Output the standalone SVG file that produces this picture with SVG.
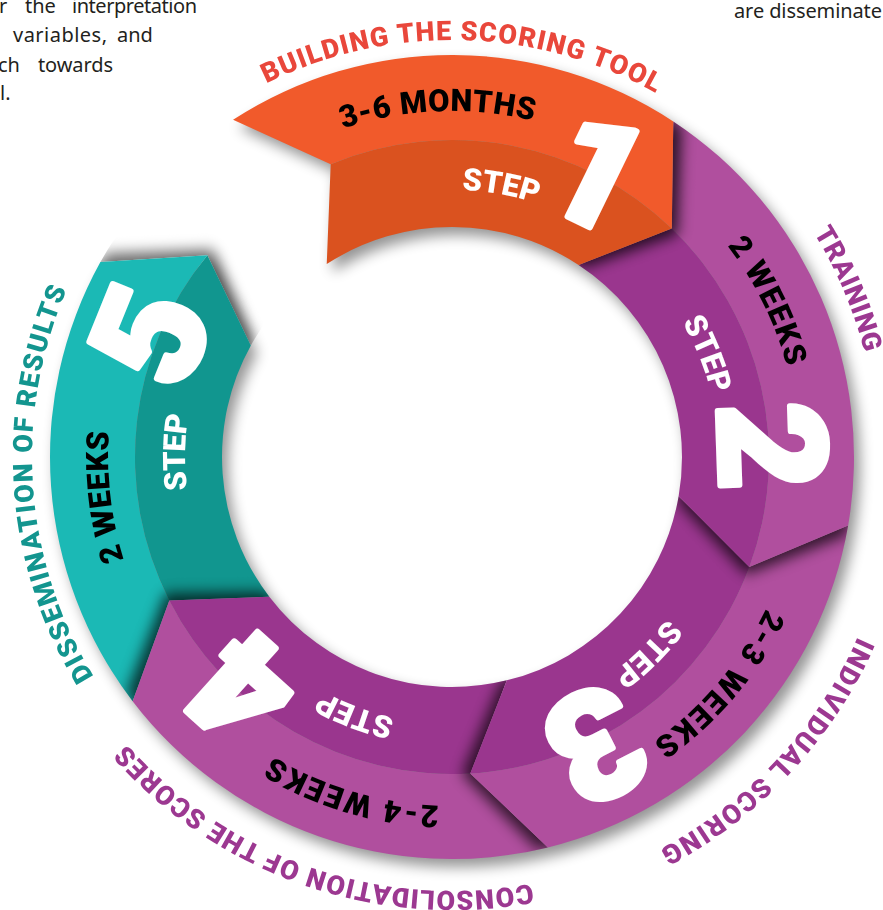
<svg xmlns="http://www.w3.org/2000/svg" xmlns:xlink="http://www.w3.org/1999/xlink" width="883" height="910" viewBox="0 0 883 910">
  <style>
    .body { font-family: 'Noto Sans', 'Liberation Sans', sans-serif; font-size: 20px; fill: #231F20; }
    .lbl { font-family: Roboto, 'Noto Sans', sans-serif; font-weight: 900; text-anchor: middle; }
    .outer { font-size: 27px; }
    .dur { font-size: 31px; fill: #000; }
    .step { font-size: 31px; fill: #fff; }
    .num { font-family: Roboto, sans-serif; font-weight: 900; font-size: 150px; fill: #fff; stroke: #fff; stroke-width: 6px; stroke-linejoin: round; text-anchor: middle; }
    .o1 { fill: #F15A2B; } .i1 { fill: #DA521F; }
    .op { fill: #B04F9E; } .ip { fill: #9A368E; }
    .ot { fill: #1BB9B5; } .it { fill: #11968F; }
  </style>
  <defs>
    <!-- one chevron-shaped ring segment, tail at 0deg, head at 66.4deg, centre (452,457) -->
    <path id="segShape" d="M452,55 A402,402 0 0 1 820.38,296.06 L760.75,385.15 L662.76,364.92 A230,230 0 0 0 452,227 L509.77,145.31 Z"/>
    <path id="outerBand" d="M452,55 A402,402 0 0 1 820.38,296.06 L760.75,385.15 A317,317 0 0 0 509.77,145.31 Z"/>
    <path id="innerBand" d="M509.77,145.31 A317,317 0 0 1 760.75,385.15 L662.76,364.92 A230,230 0 0 0 452,227 Z"/>
    <clipPath id="nextSeg"><use xlink:href="#segShape" transform="rotate(66.4 452 457)"/></clipPath>
    <filter id="ringShadow" x="-20%" y="-20%" width="140%" height="140%">
      <feGaussianBlur stdDeviation="7"/>
      <feOffset dx="6" dy="8"/>
    </filter>
    <filter id="jointBlur" x="-20%" y="-20%" width="140%" height="140%">
      <feGaussianBlur stdDeviation="7"/>
    </filter>
    <!-- clockwise arcs used as text baselines -->
    <path id="arcT1" d="M33.13,446.76 A419,419 0 0 1 870.87,467.24"/>
    <path id="arcT2" d="M284.77,63.03 A428,428 0 0 1 619.23,850.97"/>
    <path id="arcT3" d="M754.81,132.28 A444,444 0 0 1 149.19,781.72"/>
    <path id="arcT4" d="M863.30,598.62 A435,435 0 0 1 40.70,315.38"/>
    <path id="arcT5" d="M481.30,875.98 A420,420 0 0 1 422.70,38.02"/>
    <path id="arcD1" d="M106.30,471.49 A346,346 0 0 1 797.70,442.51"/>
    <path id="arcS1" d="M188.32,409.08 A268,268 0 0 1 715.68,504.92"/>
    <path id="arcD2" d="M298.25,145.92 A347,347 0 0 1 605.75,768.08"/>
    <path id="arcS2" d="M351.60,208.52 A268,268 0 0 1 552.40,705.48"/>
    <path id="arcD3" d="M677.62,190.73 A349,349 0 0 1 226.38,723.27"/>
    <path id="arcS3" d="M642.88,267.45 A269,269 0 0 1 261.12,646.55"/>
    <path id="arcD4" d="M786.63,556.12 A349,349 0 0 1 117.37,357.88"/>
    <path id="arcS4" d="M703.63,552.08 A269,269 0 0 1 200.37,361.92"/>
    <path id="arcD5" d="M491.54,798.72 A344,344 0 0 1 412.46,115.28"/>
    <path id="arcS5" d="M447.34,723.96 A267,267 0 0 1 456.66,190.04"/>
  </defs>

  <rect width="883" height="910" fill="#fff"/>

  <!-- paragraph fragments -->
  <g id="bodyText" class="body">
    <text y="13"><tspan x="-1">r</tspan><tspan x="25">the</tspan><tspan x="72" textLength="125">interpretation</tspan></text>
    <text y="42"><tspan x="13" textLength="94">variables,</tspan><tspan x="117">and</tspan></text>
    <text y="72"><tspan x="-2">ch</tspan><tspan x="38" textLength="75">towards</tspan></text>
    <text y="100"><tspan x="0">l.</tspan></text>
    <text y="18" x="734" textLength="148">are disseminate</text>
  </g>

  <!-- soft shadow under the whole ring -->
  <g id="ringShade" fill="#000" opacity="0.42" filter="url(#ringShadow)">
    <use xlink:href="#segShape" transform="rotate(-33 452 457)"/>
    <use xlink:href="#segShape" transform="rotate(33.4 452 457)"/>
    <use xlink:href="#segShape" transform="rotate(99.8 452 457)"/>
    <use xlink:href="#segShape" transform="rotate(166.2 452 457)"/>
    <use xlink:href="#segShape" transform="rotate(232.6 452 457)"/>
  </g>

  <!-- step 5 -->
  <g id="step5">
    <g transform="rotate(232.6 452 457)">
      <g clip-path="url(#nextSeg)"><use xlink:href="#segShape" transform="rotate(1.5 452 457)" fill="#000" opacity="0.55" filter="url(#jointBlur)"/></g>
      <use xlink:href="#outerBand" class="ot"/>
      <use xlink:href="#innerBand" class="it"/>
    </g>
    <text class="lbl outer" fill="#13958F"><textPath xlink:href="#arcT5" startOffset="50%" textLength="403" lengthAdjust="spacing">DISSEMINATION OF RESULTS</textPath></text>
    <text class="lbl dur"><textPath xlink:href="#arcD5" startOffset="50%" textLength="130" lengthAdjust="spacing">2 WEEKS</textPath></text>
    <text class="lbl step"><textPath xlink:href="#arcS5" startOffset="50%" textLength="75" lengthAdjust="spacing">STEP</textPath></text>
    <text class="num" transform="translate(150 335) rotate(292)" y="53">5</text>
  </g>

  <!-- step 4 -->
  <g id="step4">
    <g transform="rotate(166.2 452 457)">
      <g clip-path="url(#nextSeg)"><use xlink:href="#segShape" transform="rotate(1.5 452 457)" fill="#000" opacity="0.7" filter="url(#jointBlur)"/></g>
      <use xlink:href="#outerBand" class="op"/>
      <use xlink:href="#innerBand" class="ip"/>
    </g>
    <text class="lbl outer" fill="#9C3891"><textPath xlink:href="#arcT4" startOffset="50%" textLength="448" lengthAdjust="spacing">CONSOLIDATION OF THE SCORES</textPath></text>
    <text class="lbl dur"><textPath xlink:href="#arcD4" startOffset="50%" textLength="175" lengthAdjust="spacing">2-4 WEEKS</textPath></text>
    <text class="lbl step"><textPath xlink:href="#arcS4" startOffset="50%" textLength="78" lengthAdjust="spacing">STEP</textPath></text>
    <text class="num" transform="translate(243 690) rotate(222)" y="53">4</text>
  </g>

  <!-- step 3 -->
  <g id="step3">
    <g transform="rotate(99.8 452 457)">
      <g clip-path="url(#nextSeg)"><use xlink:href="#segShape" transform="rotate(1.5 452 457)" fill="#000" opacity="0.7" filter="url(#jointBlur)"/></g>
      <use xlink:href="#outerBand" class="op"/>
      <use xlink:href="#innerBand" class="ip"/>
    </g>
    <text class="lbl outer" fill="#9C3891"><textPath xlink:href="#arcT3" startOffset="50%" textLength="296" lengthAdjust="spacing">INDIVIDUAL SCORING</textPath></text>
    <text class="lbl dur"><textPath xlink:href="#arcD3" startOffset="50%" textLength="177" lengthAdjust="spacing">2-3 WEEKS</textPath></text>
    <text class="lbl step"><textPath xlink:href="#arcS3" startOffset="50%" textLength="78" lengthAdjust="spacing">STEP</textPath></text>
    <text class="num" transform="translate(595 745) rotate(153)" y="53">3</text>
  </g>

  <!-- step 2 -->
  <g id="step2">
    <g transform="rotate(33.4 452 457)">
      <g clip-path="url(#nextSeg)"><use xlink:href="#segShape" transform="rotate(1.5 452 457)" fill="#000" opacity="0.7" filter="url(#jointBlur)"/></g>
      <use xlink:href="#outerBand" class="op"/>
      <use xlink:href="#innerBand" class="ip"/>
    </g>
    <text class="lbl outer" fill="#9C3891"><textPath xlink:href="#arcT2" startOffset="50%" textLength="131" lengthAdjust="spacing">TRAINING</textPath></text>
    <text class="lbl dur"><textPath xlink:href="#arcD2" startOffset="50%" textLength="136" lengthAdjust="spacing">2 WEEKS</textPath></text>
    <text class="lbl step"><textPath xlink:href="#arcS2" startOffset="50%" textLength="78" lengthAdjust="spacing">STEP</textPath></text>
    <text class="num" transform="translate(772 446) rotate(88)" y="53">2</text>
  </g>

  <!-- step 1 -->
  <g id="step1">
    <g transform="rotate(-33 452 457)">
      <g clip-path="url(#nextSeg)"><use xlink:href="#segShape" transform="rotate(1.5 452 457)" fill="#000" opacity="0.75" filter="url(#jointBlur)"/></g>
      <use xlink:href="#outerBand" class="o1"/>
      <use xlink:href="#innerBand" class="i1"/>
    </g>
    <text class="lbl outer" fill="#E9473B"><textPath xlink:href="#arcT1" startOffset="50%" textLength="405" lengthAdjust="spacing">BUILDING THE SCORING TOOL</textPath></text>
    <text class="lbl dur"><textPath xlink:href="#arcD1" startOffset="50%" textLength="193" lengthAdjust="spacing">3-6 MONTHS</textPath></text>
    <text class="lbl step"><textPath xlink:href="#arcS1" startOffset="50%" textLength="76" lengthAdjust="spacing">STEP</textPath></text>
    <text class="num" transform="translate(597 172) rotate(26)" y="53">1</text>
  </g>
</svg>
